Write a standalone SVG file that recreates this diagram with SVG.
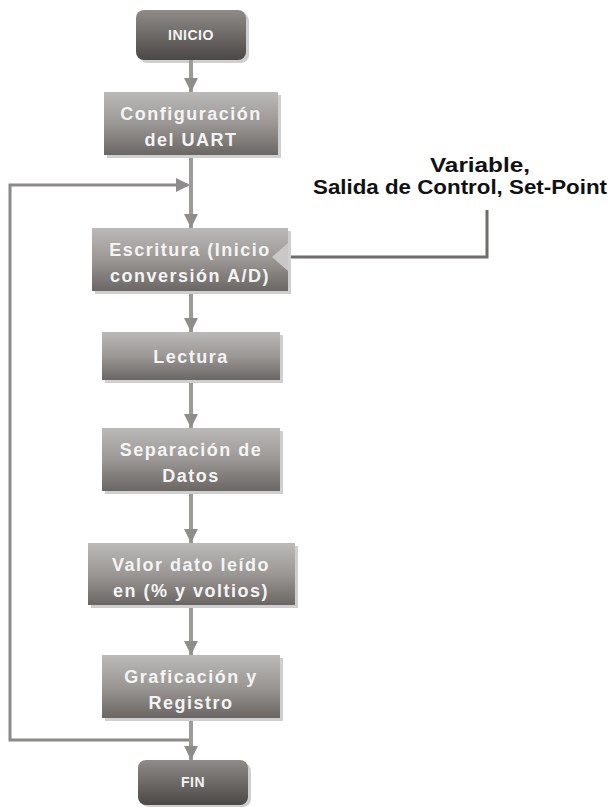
<svg xmlns="http://www.w3.org/2000/svg" width="611" height="807" viewBox="0 0 611 807">
<defs>
<linearGradient id="gBox" x1="0" y1="0" x2="0" y2="1">
<stop offset="0" stop-color="#bcbab8"/>
<stop offset="0.5" stop-color="#9a9795"/>
<stop offset="1" stop-color="#6a6663"/>
</linearGradient>
<linearGradient id="gTerm" x1="0" y1="0" x2="0" y2="1">
<stop offset="0" stop-color="#8e8b89"/>
<stop offset="1" stop-color="#4b4846"/>
</linearGradient>
<marker id="ah" viewBox="0 0 14 14" refX="14" refY="7" markerWidth="14" markerHeight="14" markerUnits="userSpaceOnUse" orient="auto">
<path d="M0,0 L14,7 L0,14 Z" fill="#8f8d8b"/>
</marker>
</defs>
<style>
.shadow{fill:#cfcfcf}
.box{fill:url(#gBox)}
.term{fill:url(#gTerm)}
.t{font-family:"Liberation Sans",Arial,sans-serif;font-weight:bold;font-size:18px;fill:#f4f4f4;text-anchor:middle;letter-spacing:1.5px}
.tt{font-family:"Liberation Sans",Arial,sans-serif;font-weight:bold;font-size:14px;fill:#f4f4f4;text-anchor:middle;letter-spacing:0.5px}
.lbl{font-family:"Liberation Sans",Arial,sans-serif;font-weight:bold;font-size:20px;fill:#111;text-anchor:middle}
.conn{stroke:#9d9b99;stroke-width:4;fill:none}
.loop{stroke:#8c8a88;stroke-width:3;fill:none}
</style>
<g id="inicio">
<rect x="139" y="13" width="110" height="50" rx="8" class="shadow"/>
<rect x="136" y="10" width="110" height="50" rx="8" class="term"/>
<text x="191" y="40" class="tt">INICIO</text>
</g>
<g id="config">
<rect x="107" y="95" width="174" height="63" class="shadow"/>
<rect x="104" y="92" width="174" height="63" class="box"/>
<text x="191" y="120" class="t">Configuración</text>
<text x="191" y="146" class="t">del UART</text>
</g>
<g id="escritura">
<rect x="95" y="231" width="196" height="63" class="shadow"/>
<rect x="92" y="228" width="196" height="63" class="box"/>
<text x="190" y="256" class="t">Escritura (Inicio</text>
<text x="190" y="282" class="t">conversión A/D)</text>
</g>
<g id="entrada">
<text x="480" y="172" class="lbl" textLength="100" lengthAdjust="spacingAndGlyphs">Variable,</text>
<text x="460" y="194" class="lbl" textLength="294" lengthAdjust="spacingAndGlyphs">Salida  de Control, Set-Point</text>
</g>
<g id="lectura">
<rect x="105" y="335" width="178" height="48" class="shadow"/>
<rect x="102" y="332" width="178" height="48" class="box"/>
<text x="191" y="363" class="t">Lectura</text>
</g>
<g id="separacion">
<rect x="105" y="431" width="178" height="63" class="shadow"/>
<rect x="102" y="428" width="178" height="63" class="box"/>
<text x="191" y="456" class="t">Separación de</text>
<text x="191" y="482" class="t">Datos</text>
</g>
<g id="valor">
<rect x="91" y="546" width="207" height="62" class="shadow"/>
<rect x="88" y="543" width="207" height="62" class="box"/>
<text x="191" y="571" class="t">Valor dato leído</text>
<text x="191" y="597" class="t">en (% y voltios)</text>
</g>
<g id="graficacion">
<rect x="105" y="658" width="178" height="63" class="shadow"/>
<rect x="102" y="655" width="178" height="63" class="box"/>
<text x="191" y="683" class="t">Graficación y</text>
<text x="191" y="709" class="t">Registro</text>
</g>
<g id="fin">
<rect x="141" y="763" width="110" height="44" rx="8" class="shadow"/>
<rect x="138" y="760" width="110" height="45" rx="8" class="term"/>
<text x="193" y="787" class="tt">FIN</text>
</g>
<g id="connectors">
<line class="conn" x1="191" y1="60" x2="191" y2="92" marker-end="url(#ah)"/>
<line class="conn" x1="191" y1="158" x2="191" y2="228" marker-end="url(#ah)"/>
<polyline class="loop" points="191,740 10,740 10,185 188,185"/>
<path d="M176,178 L190,185 L176,192 Z" fill="#8f8d8b"/>
<line class="conn" x1="191" y1="294" x2="191" y2="332" marker-end="url(#ah)"/>
<line class="conn" x1="191" y1="383" x2="191" y2="428" marker-end="url(#ah)"/>
<line class="conn" x1="191" y1="494" x2="191" y2="543" marker-end="url(#ah)"/>
<line class="conn" x1="191" y1="608" x2="191" y2="655" marker-end="url(#ah)"/>
<line class="conn" x1="191" y1="721" x2="191" y2="760" marker-end="url(#ah)"/>
<polyline points="487,210 487,257 291,257" stroke="#6f6d6b" stroke-width="3" fill="none"/>
<path d="M288,243 L288,271 L272,257 Z" fill="#cac8c6"/>
</g>
</svg>
